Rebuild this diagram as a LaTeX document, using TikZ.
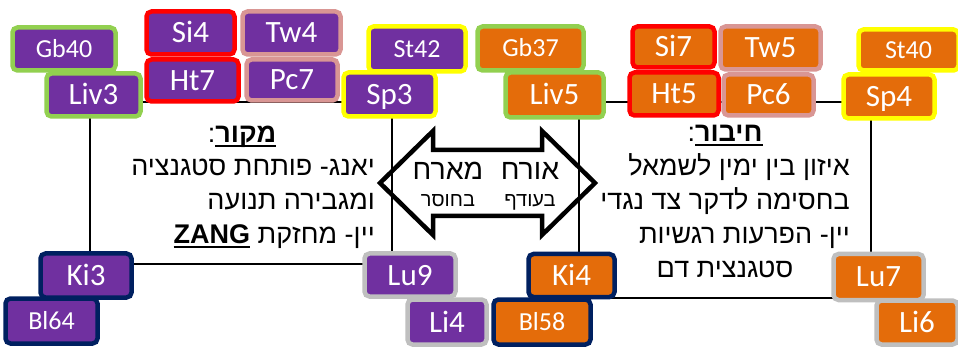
\documentclass[tikz,border=0pt]{standalone}
\usepackage{fontspec}
\setmainfont{Carlito}
\newfontfamily\heb[Script=Hebrew]{Liberation Sans}
\TeXXeTstate=1
\definecolor{purp}{HTML}{7030A0}
\definecolor{orng}{HTML}{E46C0A}
\definecolor{grn}{HTML}{92D050}
\definecolor{redc}{HTML}{FF0000}
\definecolor{pinkc}{HTML}{D99694}
\definecolor{yel}{HTML}{FFFF00}
\definecolor{navy}{HTML}{002060}
\definecolor{gry}{HTML}{BFBFBF}
\newcommand\myul[1]{\hbox{\setbox0\hbox{#1}\rlap{\raisebox{-4.5pt}{\rule{\wd0}{2pt}}}\box0}}
\tikzset{
  bx/.style={rounded corners=5pt, line width=4.5pt, inner sep=0pt, text=white, text depth=0pt},
  big/.style={font=\fontsize{31}{31}\selectfont, text height=20pt},
  sml/.style={font=\fontsize{26}{26}\selectfont, text height=16.7pt},
  pb/.style={bx, fill=purp},
  ob/.style={bx, fill=orng},
  frame/.style={line width=1.3pt, black},
  harrow/.style={line width=4.5pt, black, line join=miter},
  hbody/.style={font=\heb\fontsize{27}{27}\selectfont, inner sep=0pt},
  hbig/.style={font=\heb\fontsize{28.5}{28.5}\selectfont, inner sep=0pt},
  hsmall/.style={font=\heb\fontsize{20}{20}\selectfont, inner sep=0pt},
}
\begin{document}
\begin{tikzpicture}[x=1pt,y=-1pt]
\useasboundingbox (0,0) rectangle (958,347);
% frames
\coordinate (la) at (90,102); \coordinate (lb) at (392,102);
\coordinate (lc) at (392,264); \coordinate (ld) at (90,264);
\draw[frame] (la) -- (lb) -- (lc) -- (ld) -- cycle;
\coordinate (ra) at (579,102); \coordinate (rb) at (871,102);
\coordinate (rc) at (871,298); \coordinate (rd) at (579,298);
\draw[frame] (ra) -- (rb) -- (rc) -- (rd) -- cycle;
% double arrow
\coordinate (al) at (380,183); \coordinate (ar) at (595,183);
\draw[harrow] (al) -- (433,131) -- (433,150) -- (542,150) -- (542,131) -- (ar)
  -- (542,235) -- (542,216) -- (433,216) -- (433,235) -- cycle;
\node[hbig, anchor=base] (marach) at (448,180) {\beginR מארח\endR};
\node[hsmall, anchor=base] (bechoser) at (448,207) {\beginR בחוסר\endR};
\node[hbig, anchor=base] (orech) at (530,180) {\beginR אורח\endR};
\node[hsmall, anchor=base] (beodef) at (530,207) {\beginR בעודף\endR};
% left texts
\node[hbody, anchor=base] (srchead) at (242,143) {:\myul{\bfseries\beginR מקור\endR}};
\node[hbody, anchor=base east] (src1) at (375,176) {\beginR יאנג- פותחת סטגנציה\endR};
\node[hbody, anchor=base east] (src2) at (375,210) {\beginR ומגבירה תנועה\endR};
\node[hbody, anchor=base east] (src3) at (375,244) {\beginR יין- מחזקת \myul{\bfseries ZANG}\endR};
% right texts
\node[hbody, anchor=base] (conhead) at (725,142) {:\myul{\bfseries\beginR חיבור\endR}};
\node[hbody, anchor=base east] (con1) at (850,176) {\beginR איזון בין ימין לשמאל\endR};
\node[hbody, anchor=base east] (con2) at (850,210) {\beginR בחסימה לדקר צד נגדי\endR};
\node[hbody, anchor=base east] (con3) at (850,244) {\beginR יין- הפרעות רגשיות\endR};
\node[hbody, anchor=base] (con4) at (725,278) {\beginR סטגנצית דם\endR};
% left (purple) boxes
\node[pb, sml, draw=grn, minimum width=103pt, minimum height=43pt] (gb40) at (64,49) {Gb40};
\node[pb, big, draw=grn, minimum width=94pt, minimum height=43pt] (liv3) at (93.5,95) {Liv3};
\node[pb, big, draw=redc, minimum width=88pt, minimum height=43pt] (si4) at (190.5,33) {Si4};
\node[pb, big, draw=pinkc, minimum width=98pt, minimum height=43pt] (tw4) at (291.5,33) {Tw4};
\node[pb, big, draw=redc, minimum width=92pt, minimum height=42pt] (ht7) at (192.5,80.5) {Ht7};
\node[pb, big, draw=pinkc, minimum width=91pt, minimum height=41pt] (pc7) at (292,80) {Pc7};
\node[pb, sml, draw=yel, minimum width=97pt, minimum height=45pt] (st42) at (417,49) {St42};
\node[pb, big, draw=yel, minimum width=92pt, minimum height=44pt] (sp3) at (389.5,94.5) {Sp3};
\node[pb, big, draw=navy, minimum width=91pt, minimum height=44pt] (ki3) at (86,275.5) {Ki3};
\node[pb, sml, draw=navy, minimum width=92pt, minimum height=45pt] (bl64) at (51.5,321) {Bl64};
\node[pb, big, draw=gry, minimum width=91pt, minimum height=43pt] (lu9) at (410,275) {Lu9};
\node[pb, big, draw=gry, minimum width=79pt, minimum height=45pt] (li4) at (447,322) {Li4};
% right (orange) boxes
\node[ob, sml, draw=grn, minimum width=106pt, minimum height=44pt] (gb37) at (530.5,48.5) {Gb37};
\node[ob, big, draw=grn, minimum width=98pt, minimum height=45pt] (liv5) at (554.5,95) {Liv5};
\node[ob, big, draw=redc, minimum width=82pt, minimum height=41pt] (si7) at (673.5,47) {Si7};
\node[ob, big, draw=pinkc, minimum width=100pt, minimum height=43pt] (tw5) at (770.5,48) {Tw5};
\node[ob, big, draw=redc, minimum width=89pt, minimum height=43pt] (ht5) at (674,94) {Ht5};
\node[ob, big, draw=pinkc, minimum width=90pt, minimum height=41pt] (pc6) at (768.5,95) {Pc6};
\node[ob, sml, draw=yel, minimum width=100pt, minimum height=41pt] (st40) at (908.5,50) {St40};
\node[ob, big, draw=yel, minimum width=91pt, minimum height=44pt] (sp4) at (889,96.5) {Sp4};
\node[ob, big, draw=navy, minimum width=86pt, minimum height=43pt] (ki4) at (571.5,275.5) {Ki4};
\node[ob, sml, draw=navy, minimum width=97pt, minimum height=45pt] (bl58) at (542,322) {Bl58};
\node[ob, big, draw=gry, minimum width=90pt, minimum height=46pt] (lu7) at (878.5,277) {Lu7};
\node[ob, big, draw=gry, minimum width=81pt, minimum height=44pt] (li6) at (917,322.5) {Li6};
\end{tikzpicture}
\end{document}
